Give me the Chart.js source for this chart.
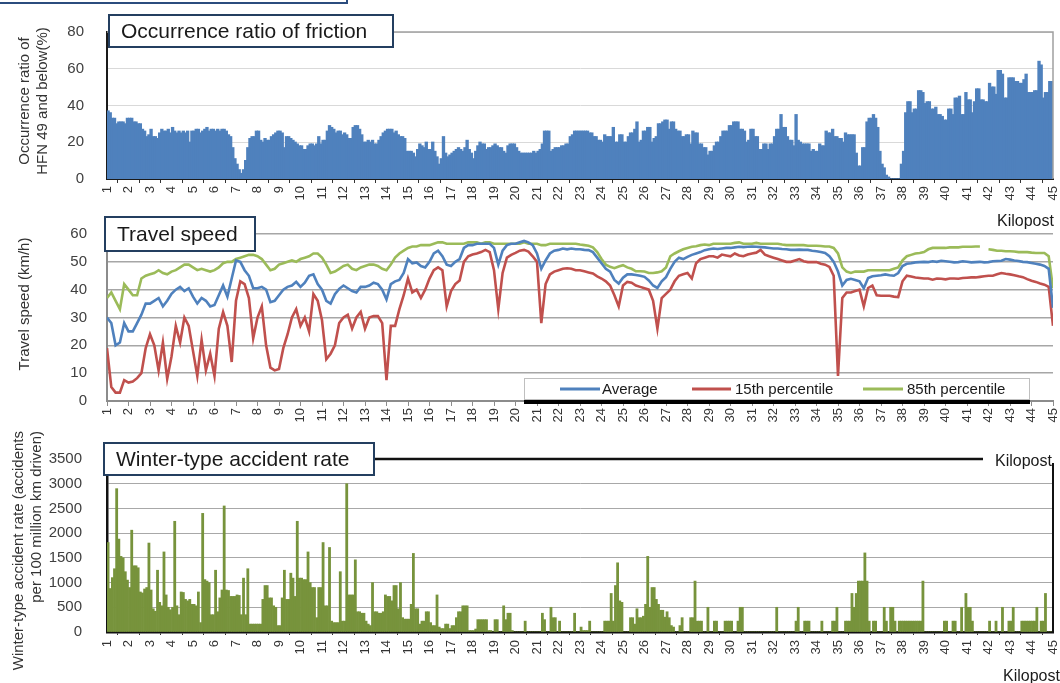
<!DOCTYPE html>
<html>
<head>
<meta charset="utf-8">
<title>Friction, travel speed and winter-type accident rate by kilopost</title>
<script src="https://cdn.jsdelivr.net/npm/chart.js@4.4.0/dist/chart.umd.min.js"></script>
<style>
  html, body { margin: 0; padding: 0; background: #fff; }
  body { width: 1060px; height: 683px; position: relative; overflow: hidden; }
  canvas { position: absolute; left: 0; }
  #friction { top: 0; }
  #speed { top: 205px; }
  #accidents { top: 425px; }
</style>
</head>
<body>
<canvas id="friction" width="1060" height="212"></canvas>
<canvas id="speed" width="1060" height="225"></canvas>
<canvas id="accidents" width="1060" height="258"></canvas>
<script>
// Kilopost tick labels shared by all three panels
const kmTicks = [1,2,3,4,5,6,7,8,9,10,11,12,13,14,15,16,17,18,19,20,21,22,23,24,25,26,27,28,29,30,31,32,33,34,35,36,37,38,39,40,41,42,43,44,45];

// Occurrence ratio of HFN 49 and below (%), one value per 100 m section from KP 1.0
const friction = [
  37,36,33,33,30,31,31,31,30,33, 33,33,31,31,30,30,27,26,23,24,
  27,23,23,22,25,27,26,26,27,25, 28,26,25,26,25,26,25,26,20,26,
  26,27,27,25,26,27,28,26,27,27, 26,27,26,27,27,26,24,23,17,11,
  8,5,3,5,10,17,22,23,23,26,     26,21,20,22,21,21,23,24,25,26,
  26,25,17,23,23,22,21,20,19,18, 18,16,16,18,19,19,18,19,23,19,
  21,21,26,29,28,27,25,26,26,24, 25,24,22,22,28,29,29,27,24,20,
  20,21,20,21,19,19,21,23,25,26, 27,27,27,25,26,24,23,23,22,15,
  15,15,14,12,16,19,18,17,20,16, 16,20,15,12,8,11,23,14,12,13,
  14,15,16,17,16,15,17,21,16,14, 11,15,18,20,19,19,16,17,17,18,
  19,18,17,17,15,14,18,19,19,19, 17,15,14,14,14,14,14,14,15,14,
  15,16,19,26,26,26,15,16,17,17, 17,18,18,19,19,23,24,26,26,26,
  26,26,26,26,25,25,23,23,21,21, 20,24,23,23,23,28,20,20,24,24,
  20,20,23,25,25,27,31,20,21,26, 26,28,28,20,22,23,30,30,31,32,
  32,27,31,31,27,26,26,23,23,24, 24,19,26,25,25,19,19,17,17,13,
  15,15,18,20,20,23,26,26,26,29, 29,31,31,31,27,27,26,20,21,27,
  27,23,23,16,16,19,19,16,19,19, 23,27,27,35,28,28,23,21,21,18,
  35,21,20,19,19,19,19,15,16,15, 15,19,18,18,26,25,25,27,23,23,
  22,22,20,25,24,24,24,24,14,7,  7,17,17,31,33,33,35,33,28,15,
  8,6,2,1,0,0,0,0,0,8,           15,36,42,42,36,38,38,48,48,47,
  41,42,42,38,38,39,35,35,34,32, 32,38,38,35,44,44,45,35,35,47,
  43,43,36,42,49,49,43,43,42,42, 52,50,50,46,59,59,57,44,44,55,
  55,55,53,53,52,52,54,57,47,47, 47,48,48,64,62,44,47,47,53,53
];

// Travel speed (km/h), one value every 200 m from KP 1.0 to KP 45.0
const speedAverage = [
  30,28,20,21,28,25,25,28,31,35,
  35,36,37,34,36,38.5,40,41,39.5,40.5,
  37.5,35,37,36,34,34.5,38,41.5,37.5,44,
  50.5,50,47,45,40.5,40.5,41,40,35.5,36,
  38,40,41,41.5,42.8,41,42.5,45,45.5,42,
  40,36,35,38.4,40.3,41.5,40.5,39.5,39,41,
  41,41.5,42.5,42,40,36.5,42,43,43.5,46,
  51,49.5,49.8,48.5,48,50,53,54,52,49,
  48.5,50,51,55,56,56,56.5,56.5,56.5,56.5,
  55,49,54,56,56.5,56.5,57,57.5,57,56,
  53,47.5,50.5,53,54,54.3,54.8,54.5,54.8,54.5,
  54.5,54.3,54.2,53.5,51.5,49.5,47.5,46.5,43.5,42.2,
  44.3,45.5,45.5,45.3,45,44.6,43.3,41.5,40.6,43,
  44.5,47.5,50,51.5,51,51.8,52.5,53,53.5,54.2,
  54.5,54.8,54.6,54.8,55,55,55.2,55.4,55.3,55.4,
  55.5,55.4,55.3,55.2,55,54.8,54.8,54.6,54.5,54.3,
  54.3,54.4,54.3,54.3,54,53.8,53.5,53.2,52,50,
  46.5,41.5,43.5,43.9,43.5,43,40.5,44.2,44.8,45,
  45.2,45.5,45.2,45,46,48.5,49.3,49.5,49.8,49.9,
  50,49.9,50.2,50,50.4,50.2,50,49.8,49.9,50.2,
  50,49.8,49.9,50,49.8,49.9,50.2,50.3,50.4,51,
  50.8,50.5,50.3,50,49.9,49.6,49.3,49,48.5,47.5,
  33.5
];
const speed15th = [
  19,5,3,3,7.5,6.6,7,8.2,10,19,
  24,20,11,21,8,16,27,21,30,27,
  18,9,22,11,17,9,26,32,27,14,
  36,43,42,37,22.5,30,34,20,12,11,
  11.5,19,24,30,33,27,30,25,38.4,36,
  29,15,17,20,28,30,31,26,30,32,
  26,30,30.5,30.5,28,7.5,27,27,33,38,
  44,39,40,37,40,44,47,48,47,34,
  39.5,42,43.3,50,52,52.6,53,53.5,54.3,53.5,
  47,33,46,51.5,52.5,53.2,54,54.3,53.7,52,
  50,28,42,45.5,46.5,47,47.5,47.7,47.5,47,
  47,46.6,46.2,45.8,44.8,44,43,41.5,38,34,
  41.5,42.8,42.5,41.5,41,40.5,40,36,26,37,
  38.5,40,43,45,45.5,46,44,49.5,51,51.5,
  52,52,51.5,52.6,52.3,52,53,52.3,52,52.6,
  53,53.3,54.3,52.6,52,51.5,51,50.5,50,50,
  50.5,51,50.2,49.9,49.9,49.9,49.3,49,48.2,45,
  9,37,39,39,39.5,40,34,40.6,41.5,38,
  37.8,37.8,37.8,37.5,37.3,43,45,44.7,44.4,44.2,
  44,44,43.6,44,43.9,43.7,44,44,43.9,44.2,
  44.3,44.4,44.4,44.6,44.8,45,45,45.5,46,45.7,
  45.5,45.2,44.8,44.5,43.8,43.2,42.8,42.2,41.8,41,
  27
];
const speed85th = [
  37,39,36,33,42,40,38,38,44,45,
  45.5,46,47,46,45.5,46.5,47,48,49,49,
  48,47,47.5,47,46.5,47,48,49.5,50,50,
  51,51.5,52,52.5,52.5,52,51,49,47,47.5,
  49,49.5,50,50.5,50,51,51.5,52,53,53,
  51.5,49,46,46.5,47.5,48.5,49,47.5,47,48,
  48.5,49,49,48.5,47.5,47,49,51.5,53,54,
  55,55.5,55.5,56,56,56,56.5,57,57,56.5,
  56.5,56.5,56.5,56.5,57,57,57,56.5,57,57,
  56.5,56.5,56.5,56.5,56.5,56.5,56.5,57,56.5,56.5,
  56.5,56,56,56.5,56.5,56.5,56.5,56.5,56.5,56.5,
  56.2,56,55.8,55.2,53.5,51,49,48.2,47.7,48.3,
  48.8,48,47.5,46.6,46.6,46.5,46,46,46.2,46.6,
  48,52,53,53.8,54.5,55,55.4,55.6,56,56.2,
  56,56.5,56.5,56.5,56.5,56.5,56.8,57,56.5,56.5,
  56.5,56.8,56.5,56.5,56.5,56.5,56.5,56.2,56,56,
  56,56,56,55.8,55.8,55.8,55.7,55.5,55.5,55,
  53,48,46.5,46,46.5,46.5,46.5,47,47,47,
  47,47,47,47.5,48,50.5,52,52.5,53,53.2,
  53.5,54.5,55,55,55,55,55.2,55.2,55.2,55.4,
  55.4,55.4,55.5,55.5,null,54.5,54.3,54,54,53.8,
  53.8,53.7,53.5,53.5,53.5,53.3,53.2,53.2,53.2,52,
  40.5
];

// Winter-type accident rate (accidents per 100 million km driven), per 100 m section
const accidentRate = [
  1810,880,1100,1280,2900,1880,1530,1500,1220,1050,
  900,2060,1340,1340,1300,810,790,870,900,1800,
  850,470,420,1250,600,530,1620,750,500,450,
  500,2240,530,350,810,800,660,630,660,560,
  560,530,810,190,2400,1060,1030,1000,350,350,
  1250,410,690,850,2550,850,840,720,720,720,
  750,740,350,1090,350,1280,160,160,160,160,
  160,160,660,940,940,690,690,530,500,130,
  130,690,1250,660,660,1190,1090,720,2240,1090,
  1090,1060,1060,1620,1000,900,900,290,900,900,
  1810,530,530,1710,220,190,190,190,1220,220,
  220,3000,750,750,750,1460,410,410,380,380,
  220,160,130,1000,410,410,380,380,410,750,
  720,720,630,940,940,470,1000,290,260,260,
  260,560,1590,470,470,160,220,220,410,410,
  190,130,130,750,100,70,70,160,160,70,
  130,130,290,410,410,530,530,530,30,30,
  30,60,250,250,250,250,250,30,30,0,
  250,250,0,0,530,250,380,380,30,0,
  0,0,0,0,220,0,0,0,0,0,
  0,0,380,250,0,0,500,290,290,0,
  220,0,0,0,0,0,0,380,0,0,
  100,30,30,30,220,0,0,0,0,0,
  0,220,220,220,780,220,940,1400,630,600,
  0,0,0,290,290,160,470,290,290,320,
  560,1530,500,900,900,660,560,440,440,300,
  410,290,130,100,0,0,130,290,0,0,
  0,290,290,1030,220,220,220,0,0,500,
  0,0,220,220,0,0,0,220,220,220,
  220,0,0,220,500,500,0,0,0,0,
  0,0,0,0,0,0,0,0,0,0,
  0,500,0,0,0,0,0,0,0,0,
  220,500,0,0,220,220,220,0,0,0,
  0,0,220,0,0,0,0,220,220,500,
  0,0,0,220,220,220,780,500,780,1030,
  1030,1030,1600,1030,220,0,220,220,0,0,
  0,500,220,0,500,500,220,0,220,220,
  220,220,220,220,220,220,220,220,220,1030,
  0,0,0,0,0,0,0,0,0,220,
  220,0,0,220,220,0,0,500,0,780,
  500,500,220,0,0,0,0,0,0,0,
  220,0,0,220,0,0,500,0,0,220,
  220,500,0,0,0,220,220,220,220,220,
  220,220,500,0,220,220,780,0,0,0
];

const FONT = "'Liberation Sans', Arial, Helvetica, sans-serif";
Chart.defaults.font.family = FONT;
Chart.defaults.color = '#404040';
Chart.defaults.animation = false;

const PLOT_LEFT = 107;

// 100 m sections: bar centred in the middle of each section
const sectionPoints = values => values.map((v, i) => ({ x: 1.05 + i / 10, y: v }));
// 200 m sampling for the speed profile
const speedPoints = values => values.map((v, i) => ({ x: 1 + i / 5, y: v }));

function kmAxis(o) {
  return {
    type: 'linear', min: 1, max: 45, offset: false,
    afterBuildTicks: s => { s.ticks = kmTicks.map(v => ({ value: v })); },
    ticks: { autoSkip: false, minRotation: 90, maxRotation: 90, padding: o.labelPad,
             color: '#333', font: { size: 13 }, callback: v => String(v) },
    grid: { drawOnChartArea: false, drawTicks: true, tickLength: o.tickLen, color: o.tickColor, lineWidth: 1 },
    border: { display: true, color: o.axisColor, width: o.axisWidth },
    afterFit: s => { s.height = o.height; s.paddingLeft = 0; s.paddingRight = 0; }
  };
}
function valueAxis(o) {
  return {
    min: 0, max: o.max,
    ticks: { stepSize: o.step, padding: o.labelPad, color: '#404040', font: { size: 15 },
             callback: v => String(v) },
    grid: { color: o.gridColor, lineWidth: o.gridWidth, drawTicks: false },
    border: { display: true, color: o.axisColor, width: o.axisWidth },
    afterFit: s => { s.width = PLOT_LEFT; }
  };
}

function titleBox(ctx, x, y, w, h, text) {
  ctx.save();
  ctx.fillStyle = '#fff';
  ctx.fillRect(x, y, w, h);
  ctx.strokeStyle = '#243F60';
  ctx.lineWidth = 2;
  ctx.strokeRect(x, y, w, h);
  ctx.fillStyle = '#1a1a1a';
  ctx.font = '21px ' + FONT;
  ctx.textAlign = 'left';
  ctx.textBaseline = 'middle';
  ctx.fillText(text, x + 12, y + h / 2 + 1);
  ctx.restore();
}
function verticalTitle(ctx, lines, x, y, gap, align) {
  ctx.save();
  ctx.font = '15px ' + FONT;
  ctx.fillStyle = '#333';
  ctx.textAlign = align;
  ctx.textBaseline = 'middle';
  lines.forEach((t, i) => {
    ctx.save();
    ctx.translate(x + i * gap, y);
    ctx.rotate(-Math.PI / 2);
    ctx.fillText(t, 0, 0);
    ctx.restore();
  });
  ctx.restore();
}
function kilopost(ctx, x, y, cover) {
  ctx.save();
  if (cover) {
    ctx.fillStyle = '#fff';
    ctx.fillRect(cover[0], cover[1], cover[2], cover[3]);
  }
  ctx.fillStyle = '#1a1a1a';
  ctx.font = '16px ' + FONT;
  ctx.textAlign = 'left';
  ctx.textBaseline = 'middle';
  ctx.fillText('Kilopost', x, y);
  ctx.restore();
}

const quiet = { legend: { display: false }, tooltip: { enabled: false } };

// ---- Panel 1: occurrence ratio of friction ----
new Chart(document.getElementById('friction'), {
  type: 'bar',
  data: { datasets: [{ label: 'Occurrence ratio', data: sectionPoints(friction),
    backgroundColor: '#4F81BD', borderWidth: 0, inflateAmount: 0.6,
    barPercentage: 1, categoryPercentage: 1 }] },
  options: {
    responsive: false, devicePixelRatio: 1,
    layout: { padding: { top: 13, right: 7, bottom: 3, left: 0 } },
    plugins: quiet,
    scales: {
      x: kmAxis({ labelPad: 3, tickLen: 4, tickColor: '#333', axisColor: '#1a1a1a', axisWidth: 2, height: 30 }),
      y: valueAxis({ max: 80, step: 20, labelPad: 23, gridColor: '#d9d9d9', gridWidth: 1, axisColor: '#1a1a1a', axisWidth: 2 })
    }
  },
  plugins: [{
    id: 'frictionDecor',
    afterDraw(chart) {
      const { ctx, chartArea: a } = chart;
      ctx.save();
      ctx.strokeStyle = '#2B4C7E';
      ctx.lineWidth = 2;
      ctx.strokeRect(-2, -30, 349, 33);
      ctx.strokeStyle = '#a0a0a0';
      ctx.lineWidth = 1.5;
      ctx.beginPath();
      ctx.moveTo(a.left, a.top);
      ctx.lineTo(a.right, a.top);
      ctx.lineTo(a.right, a.bottom);
      ctx.stroke();
      ctx.restore();
      titleBox(ctx, 109, 15, 284, 32, 'Occurrence ratio of friction');
      verticalTitle(ctx, ['Occurrence ratio of', 'HFN 49 and below(%)'], 25, 101, 18, 'center');
    }
  }]
});

// ---- Panel 2: travel speed ----
new Chart(document.getElementById('speed'), {
  type: 'line',
  data: { datasets: [
    { label: 'Average', data: speedPoints(speedAverage), borderColor: '#4F81BD' },
    { label: '15th percentile', data: speedPoints(speed15th), borderColor: '#C0504D' },
    { label: '85th percentile', data: speedPoints(speed85th), borderColor: '#9BBB59' }
  ] },
  options: {
    responsive: false, devicePixelRatio: 1,
    layout: { padding: { top: 16, right: 7, bottom: 2, left: 0 } },
    plugins: quiet,
    elements: { line: { borderWidth: 2.6, tension: 0, fill: false }, point: { radius: 0 } },
    spanGaps: false,
    scales: {
      x: kmAxis({ labelPad: 2, tickLen: 5, tickColor: '#8c8c8c', axisColor: '#8c8c8c', axisWidth: 2, height: 25 }),
      y: valueAxis({ max: 60, step: 10, labelPad: 20, gridColor: '#a6a6a6', gridWidth: 1.6, axisColor: '#8c8c8c', axisWidth: 2 })
    }
  },
  plugins: [{
    id: 'speedDecor',
    afterDraw(chart) {
      const { ctx } = chart;
      kilopost(ctx, 997, 17, [986, 7, 74, 20]);
      titleBox(ctx, 105, 12, 150, 34, 'Travel speed');
      verticalTitle(ctx, ['Travel speed (km/h)'], 25, 99, 0, 'center');
      // legend
      const lx = 524, ly = 173, lw = 506, lh = 22;
      ctx.save();
      ctx.fillStyle = '#fff';
      ctx.fillRect(lx, ly, lw, lh);
      ctx.strokeStyle = '#bfbfbf';
      ctx.lineWidth = 1;
      ctx.strokeRect(lx + 0.5, ly + 0.5, lw - 1, lh - 1);
      ctx.fillStyle = '#000';
      ctx.fillRect(lx, ly + lh, lw, 4);
      const marks = [[560, 600, 602], [692, 731, 735], [863, 903, 907]];
      ctx.font = '15px ' + FONT;
      ctx.textAlign = 'left';
      ctx.textBaseline = 'middle';
      chart.data.datasets.forEach((ds, i) => {
        const [x0, x1, tx] = marks[i];
        ctx.strokeStyle = ds.borderColor;
        ctx.lineWidth = 3;
        ctx.beginPath();
        ctx.moveTo(x0, ly + 11);
        ctx.lineTo(x1, ly + 11);
        ctx.stroke();
        ctx.fillStyle = '#1a1a1a';
        ctx.fillText(ds.label, tx, ly + 12);
      });
      ctx.restore();
    }
  }]
});

// ---- Panel 3: winter-type accident rate ----
new Chart(document.getElementById('accidents'), {
  type: 'bar',
  data: { datasets: [{ label: 'Winter-type accident rate', data: sectionPoints(accidentRate),
    backgroundColor: '#77933C', borderWidth: 0, barPercentage: 1, categoryPercentage: 1 }] },
  options: {
    responsive: false, devicePixelRatio: 1,
    layout: { padding: { top: 19, right: 7, bottom: 21, left: 0 } },
    plugins: quiet,
    scales: {
      x: kmAxis({ labelPad: 5, tickLen: 3, tickColor: '#333', axisColor: '#111', axisWidth: 2.5, height: 30 }),
      y: valueAxis({ max: 3500, step: 500, labelPad: 25, gridColor: '#a8a8a8', gridWidth: 1, axisColor: '#111', axisWidth: 2.5 })
    }
  },
  plugins: [{
    id: 'accidentDecor',
    afterDraw(chart) {
      const { ctx, chartArea: a } = chart;
      ctx.save();
      ctx.fillStyle = '#fff';
      ctx.fillRect(983, a.top - 9, 77, 18);
      ctx.strokeStyle = '#111';
      ctx.lineWidth = 2.5;
      ctx.beginPath();
      ctx.moveTo(a.left - 1, a.top);
      ctx.lineTo(983, a.top);
      ctx.stroke();
      ctx.lineWidth = 2;
      ctx.beginPath();
      ctx.moveTo(a.right, 38);
      ctx.lineTo(a.right, a.bottom);
      ctx.stroke();
      ctx.restore();
      kilopost(ctx, 995, a.top + 3, null);
      kilopost(ctx, 1003, 252, null);
      titleBox(ctx, 104, 18, 270, 32, 'Winter-type accident rate');
      verticalTitle(ctx, ['Winter-type accident rate (accidents', 'per 100 million km driven)'], 19, 6, 18, 'right');
    }
  }]
});
</script>
</body>
</html>
